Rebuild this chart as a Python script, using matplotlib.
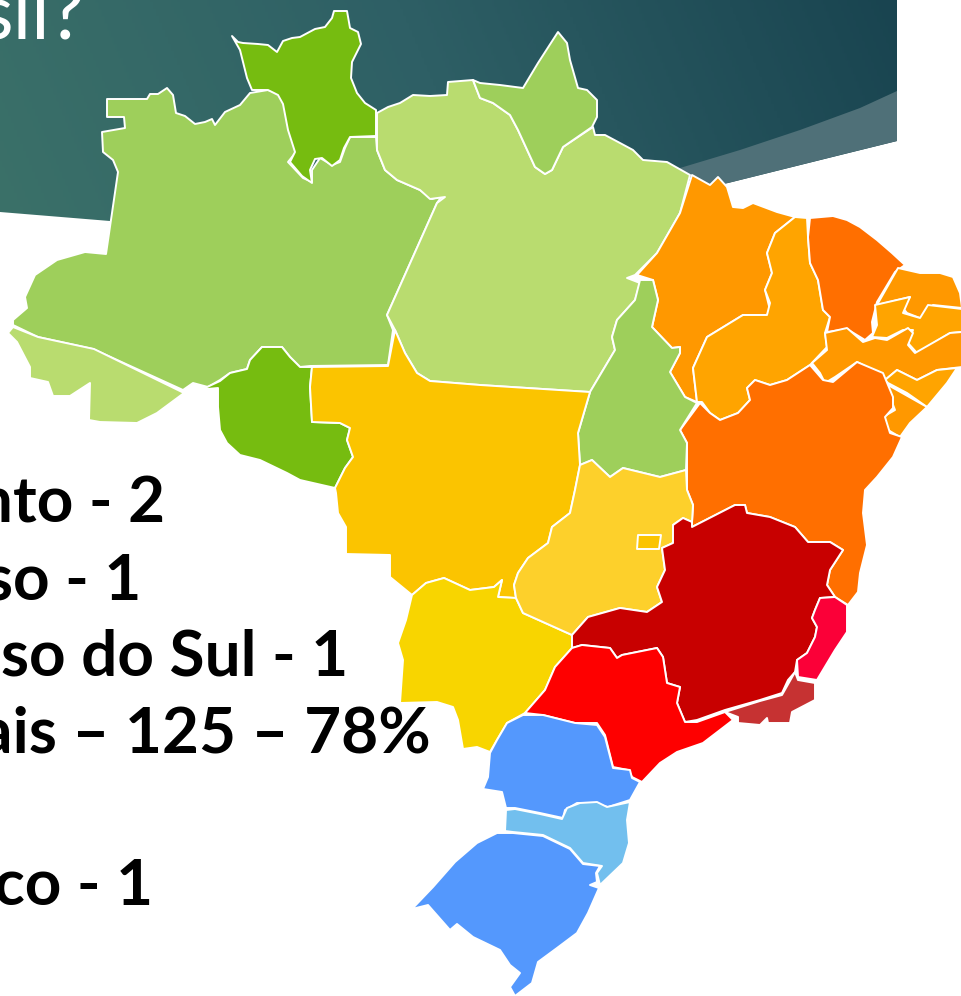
import numpy as np
import matplotlib
matplotlib.use("Agg")
import matplotlib.pyplot as plt
from matplotlib.patches import Polygon
from matplotlib.colors import LinearSegmentedColormap

# state outlines in pixels
RR = [(232,36),(238,42),(243,43),(258,44),(268,45),(277,52),(283,41),(292,38),(300,37),(315,29),(325,27),(332,18),(334,11),(347,11),(350,28),(358,32),(361,44),(352,62),(351,78),(357,93),(365,103),(376,110),(376,136),(350,137),(344,148),(340,160),(332,166),(322,158),(315,159),(310,170),(312,183),(302,176),(290,162),(295,152),(288,130),(283,104),(278,95),(268,90),(252,90),(247,78),(244,66),(240,50)]
AM = [(107,99),(147,99),(150,94),(158,94),(167,88),(173,95),(176,113),(185,116),(195,124),(205,122),(212,119),(215,125),(225,112),(240,105),(250,93),(268,90),(283,95),(288,115),(293,140),(296,152),(288,162),(303,178),(312,182),(312,170),(320,158),(332,165),(340,162),(345,148),(350,137),(376,137),(377,150),(385,170),(397,180),(420,190),(432,199),(442,196),(437,203),(387,315),(393,330),(388,365),(310,366),(300,367),(290,357),(282,347),(262,347),(250,360),(247,369),(230,373),(220,380),(208,387),(193,383),(183,390),(93,349),(38,337),(13,325),(13,320),(27,308),(25,297),(35,275),(57,260),(85,252),(106,254),(118,172),(113,160),(103,152),(102,132),(125,128),(124,117),(107,117)]
AC = [(13,327),(8,333),(17,342),(30,367),(30,378),(48,382),(53,396),(70,396),(90,383),(89,420),(100,422),(137,423),(157,413),(184,393),(94,349),(38,337)]
RO = [(184,391),(205,388),(220,381),(230,373),(247,369),(250,360),(262,347),(282,347),(290,357),(300,367),(312,367),(310,387),(312,422),(340,423),(350,428),(347,440),(353,457),(345,468),(335,488),(300,480),(287,473),(260,460),(240,455),(227,443),(220,430),(218,407),(218,388),(197,390)]
PA = [(377,113),(388,107),(400,103),(413,95),(430,96),(447,95),(448,82),(473,80),(480,98),(493,103),(510,115),(518,130),(535,167),(545,174),(552,170),(563,147),(593,127),(595,135),(605,135),(620,143),(633,150),(643,160),(667,162),(690,175),(680,213),(657,253),(635,275),(627,278),(640,283),(635,300),(617,320),(612,337),(615,350),(590,392),(480,385),(430,381),(417,373),(405,353),(395,330),(387,315),(437,203),(445,197),(430,199),(420,190),(397,180),(385,170),(377,150)]
AP = [(480,83),(500,85),(523,88),(538,63),(558,32),(567,43),(570,60),(578,88),(587,90),(597,100),(597,117),(592,127),(563,147),(552,170),(545,174),(535,167),(518,130),(510,115),(493,103),(480,98),(473,80)]
MA = [(692,175),(710,185),(718,177),(727,187),(733,207),(743,208),(753,203),(777,212),(795,217),(775,233),(767,253),(772,273),(765,290),(770,310),(767,315),(743,315),(707,337),(693,368),(697,402),(685,397),(670,372),(680,353),(680,347),(672,348),(652,327),(658,300),(653,280),(637,275),(657,253),(680,213)]
PI = [(795,217),(807,218),(808,237),(810,263),(818,280),(823,310),(830,317),(825,333),(827,347),(810,365),(787,380),(770,385),(755,380),(747,388),(750,400),(738,413),(720,420),(710,413),(702,402),(697,402),(693,368),(707,337),(743,315),(767,315),(770,303),(765,290),(772,273),(767,253),(775,233)]
CE = [(810,218),(833,216),(847,220),(860,227),(877,240),(892,253),(905,265),(895,272),(877,302),(872,322),(873,333),(865,340),(847,329),(827,332),(830,317),(823,310),(818,280),(810,263),(808,237)]
RN = [(898,268),(920,273),(940,273),(953,277),(960,293),(962,308),(933,305),(925,320),(907,313),(902,307),(910,297),(877,305)]
PB = [(875,305),(910,297),(903,313),(920,318),(928,305),(962,309),(962,332),(950,333),(917,353),(908,343),(913,330),(903,330),(887,338),(872,337),(877,325)]
PE = [(825,333),(847,328),(863,342),(875,338),(887,340),(908,328),(913,333),(908,345),(915,353),(950,333),(962,332),(962,367),(937,370),(917,380),(897,370),(885,380),(873,370),(857,362),(835,377),(825,383),(820,373),(812,363),(827,350)]
AL = [(885,380),(897,370),(917,380),(937,370),(957,368),(947,383),(927,407),(907,393),(888,383)]
SE = [(888,385),(927,407),(910,423),(900,437),(888,430),(883,417),(895,410),(890,397)]
BA = [(700,403),(710,413),(720,420),(738,413),(750,400),(747,388),(755,380),(770,385),(787,380),(810,365),(823,380),(833,382),(857,362),(883,373),(893,397),(893,408),(885,417),(890,433),(902,437),(893,457),(877,477),(865,490),(863,513),(867,545),(860,573),(858,592),(848,605),(835,597),(827,585),(830,570),(843,550),(830,542),(808,542),(795,527),(770,517),(747,513),(745,505),(735,505),(692,527),(692,522),(693,505),(687,490),(687,443),(680,430)]
TO = [(640,280),(653,280),(658,300),(652,327),(672,348),(680,347),(680,353),(670,372),(685,397),(697,403),(680,430),(687,443),(686,470),(660,477),(623,468),(610,477),(592,460),(580,465),(578,433),(590,392),(615,350),(612,337),(617,320),(635,300)]
MT = [(312,367),(388,366),(395,330),(405,353),(417,373),(430,381),(480,385),(590,392),(578,433),(580,465),(575,490),(570,513),(552,527),(548,543),(528,558),(518,573),(514,585),(516,598),(498,597),(502,580),(494,587),(470,590),(444,578),(426,583),(412,595),(390,577),(390,555),(346,554),(346,527),(338,513),(336,493),(335,488),(345,468),(353,457),(347,440),(350,428),(340,423),(312,422),(310,387)]
MS = [(412,595),(426,583),(444,578),(470,590),(494,587),(502,580),(498,597),(516,598),(523,613),(572,635),(572,648),(555,667),(545,690),(525,713),(507,723),(497,740),(490,752),(477,747),(463,749),(458,720),(453,707),(437,702),(400,703),(403,660),(398,643),(406,620)]
GO = [(575,490),(580,465),(592,460),(610,477),(623,468),(660,477),(686,470),(687,490),(693,505),(692,522),(683,518),(673,525),(673,543),(662,548),(665,570),(657,587),(662,602),(647,612),(620,608),(588,617),(572,635),(523,613),(516,598),(514,585),(518,573),(528,558),(548,543),(552,527),(570,513)]
DF = [(638,535),(661,535),(659,549),(637,549)]
MG = [(692,527),(735,505),(745,505),(747,513),(770,517),(795,527),(808,542),(830,542),(843,550),(830,570),(827,585),(835,597),(820,598),(815,610),(812,618),(817,627),(815,637),(807,653),(797,660),(795,672),(788,680),(782,693),(760,700),(725,710),(697,720),(685,722),(677,703),(680,687),(667,683),(663,657),(657,648),(622,655),(617,658),(610,648),(582,645),(572,648),(572,635),(588,617),(620,608),(647,612),(662,602),(657,587),(665,570),(662,548),(673,543),(673,525),(683,518),(692,522)]
ES = [(820,598),(835,597),(847,605),(847,632),(835,650),(817,680),(798,677),(797,660),(807,653),(815,637),(817,627),(812,618),(815,610)]
RJ = [(795,672),(798,680),(815,683),(815,700),(792,712),(790,723),(768,723),(767,718),(760,725),(738,723),(738,717),(725,712),(760,701),(782,695)]
SP = [(525,713),(545,690),(555,667),(572,648),(582,645),(610,648),(617,658),(622,655),(657,648),(663,657),(667,683),(680,687),(677,703),(685,722),(697,722),(725,712),(733,720),(720,730),(703,743),(677,752),(660,763),(642,782),(632,777),(628,770),(613,767),(605,735),(597,723),(575,723),(543,715)]
PR = [(523,715),(543,715),(575,723),(597,725),(605,737),(613,768),(630,770),(632,778),(640,782),(630,800),(608,807),(593,803),(577,803),(565,810),(563,818),(540,813),(515,808),(506,808),(502,792),(483,789),(488,777),(490,753),(497,740),(507,723)]
SC = [(506,810),(515,809),(540,814),(562,819),(567,808),(580,803),(597,802),(607,807),(630,802),(627,820),(629,843),(623,863),(600,885),(597,873),(602,866),(583,863),(570,848),(543,835),(513,832),(505,831)]
RS = [(497,833),(513,833),(543,836),(570,849),(583,864),(600,866),(596,873),(597,882),(590,885),(599,888),(588,913),(577,933),(557,948),(538,962),(532,983),(515,996),(510,987),(520,973),(510,965),(500,950),(473,937),(457,924),(450,930),(428,905),(412,909),(433,887),(455,862),(477,843)]

states = [AM, AC, RR, RO, PA, AP, MA, PI, CE, RN, PB, PE, AL, SE, BA, TO, MT, MS, GO, DF, MG, ES, RJ, SP, PR, SC, RS]
state_colors = ["#9ecf5b", "#b9dc6f", "#76bc10", "#76bc10", "#b9dc6f", "#9ecf5b", "#ff9800", "#ffa400", "#ff6f00",
                "#ff9800", "#ffa400", "#ff9800", "#ffa400", "#ff9800", "#ff6f00", "#9ecf5b", "#fbc400", "#f8d500",
                "#fdd02b", "#fbc400", "#c80000", "#fb0038", "#c63232", "#fe0000", "#5498fd", "#72bfee", "#5498fd"]

banner = [(0,0),(897,0),(897,141),(728,183),(640,200),(400,232),(110,221),(0,212)]
band = [(897,91),(860,108),(800,130),(740,150),(680,168),(680,193),(728,183),(840,155),(897,141)]
banner_colors = ["#3b7169", "#2e5f65", "#194450"]

labels = ["nto - 2", "so - 1", "so do Sul - 1", "ais \u2013 125 \u2013 78%", "co - 1"]
label_right = [165, 141, 348, 431, 153]
label_base = [522, 599, 675, 752, 905]

fig = plt.figure(figsize=(9.62, 9.96), dpi=100)
ax = fig.add_axes([0, 0, 1, 1])

# banner gradient, clipped to the swoosh shape
cmap = LinearSegmentedColormap.from_list("banner", banner_colors)
xx, yy = np.meshgrid(np.linspace(0, 1, 300), np.linspace(0, 1, 100))
img = ax.imshow(xx * 0.9 + (1 - yy) * 0.1, cmap=cmap, extent=(0, 897, 232, 0), aspect="auto", zorder=1)
img.set_clip_path(Polygon(banner, closed=True, transform=ax.transData))
ax.set_xlim(0, 962)
ax.set_ylim(996, 0)
ax.axis("off")
ax.add_patch(Polygon(band, closed=True, fc="#4f7078", ec="none", zorder=2))

ax.text(85, 38, "sil?", color="white", fontsize=56, family="Lato", ha="right", va="baseline", zorder=3)

for pts, col in zip(states, state_colors):
    ax.add_patch(Polygon(pts, closed=True, fc=col, ec="white", lw=1.4, joinstyle="round", zorder=4))

for txt, x, y in zip(labels, label_right, label_base):
    ax.text(x, y, txt, color="black", fontsize=46, family="Lato", weight="bold", ha="right", va="baseline", zorder=5)

fig.savefig("out.png", dpi=100)
plt.close(fig)
